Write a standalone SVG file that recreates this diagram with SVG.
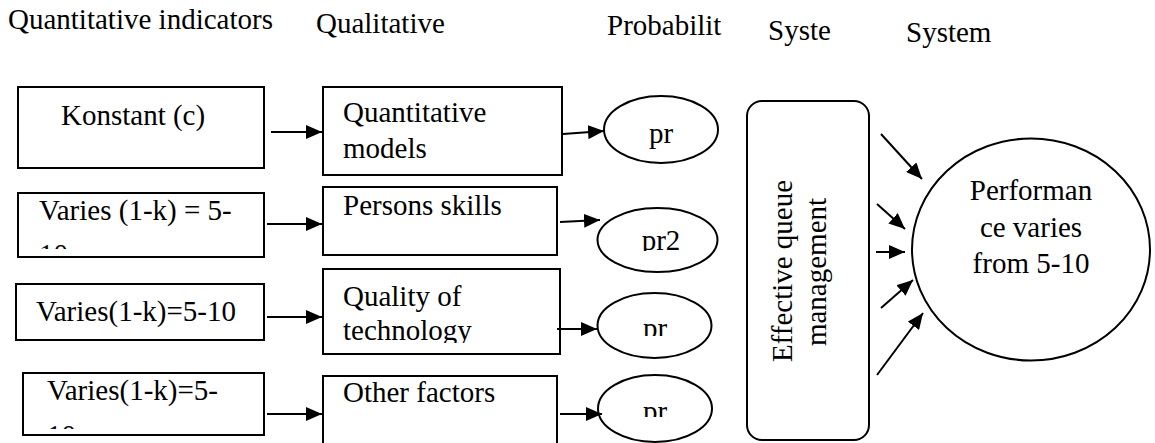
<svg xmlns="http://www.w3.org/2000/svg" width="1155" height="443" viewBox="0 0 1155 443">
  <style>
    text { font-family: "Liberation Serif", "Times New Roman", serif; font-size: 29px; fill: #000; }
    .box { fill: #fff; stroke: #000; stroke-width: 2; }
    .conn { stroke: #000; stroke-width: 2; fill: none; marker-end: url(#arrow); }
    .mid { text-anchor: middle; }
  </style>
  <defs>
    <marker id="arrow" markerUnits="userSpaceOnUse" markerWidth="16" markerHeight="14" refX="16" refY="7" orient="auto">
      <path d="M0,0 L16,7 L0,14 z" fill="#000"/>
    </marker>
    <clipPath id="clipV2"><rect x="18" y="193" width="246" height="56"/></clipPath>
    <clipPath id="clipV4"><rect x="23" y="373" width="241" height="56"/></clipPath>
    <clipPath id="clipTech"><rect x="323" y="269" width="237" height="74"/></clipPath>
    <clipPath id="clipE2"><rect x="597" y="208" width="121" height="43"/></clipPath>
    <clipPath id="clipE3"><rect x="597" y="293" width="115" height="43"/></clipPath>
    <clipPath id="clipE4"><rect x="598" y="375" width="114" height="42"/></clipPath>
  </defs>
  <rect width="1155" height="443" fill="#fff"/>

  <g id="headers">
    <text x="8" y="29">Quantitative indicators</text>
    <text x="316" y="33">Qualitative</text>
    <text x="607" y="35">Probabilit</text>
    <text x="768" y="40">Syste</text>
    <text x="906" y="42">System</text>
  </g>

  <g id="n-konstant">
    <rect class="box" x="18" y="87" width="246" height="81"/>
    <text x="61" y="125">Konstant (c)</text>
  </g>
  <g id="n-varies2">
    <rect class="box" x="18" y="193" width="246" height="64"/>
    <g clip-path="url(#clipV2)">
      <text x="39" y="220">Varies (1-k) = 5-</text>
      <text x="39" y="264">10</text>
    </g>
  </g>
  <g id="n-varies3">
    <rect class="box" x="16" y="284" width="248" height="56"/>
    <text x="36" y="321">Varies(1-k)=5-10</text>
  </g>
  <g id="n-varies4">
    <rect class="box" x="23" y="373" width="241" height="62"/>
    <g clip-path="url(#clipV4)">
      <text x="47" y="400">Varies(1-k)=5-</text>
      <text x="47" y="445">10</text>
    </g>
  </g>

  <g id="n-quantmodels">
    <rect class="box" x="323" y="87" width="239" height="88"/>
    <text x="343" y="122">Quantitative</text>
    <text x="343" y="158">models</text>
  </g>
  <g id="n-persons">
    <rect class="box" x="323" y="187" width="234" height="68"/>
    <text x="343" y="215">Persons skills</text>
  </g>
  <g id="n-quality">
    <rect class="box" x="323" y="269" width="237" height="85"/>
    <g clip-path="url(#clipTech)">
      <text x="343" y="306">Quality of</text>
      <text x="343" y="340">technology</text>
    </g>
  </g>
  <g id="n-other">
    <rect class="box" x="323" y="376" width="234" height="70"/>
    <text x="343" y="402">Other factors</text>
  </g>

  <g id="n-pr1">
    <ellipse class="box" cx="661" cy="129.5" rx="57" ry="33.5"/>
    <text class="mid" x="661" y="143">pr</text>
  </g>
  <g id="n-pr2">
    <ellipse class="box" cx="657.5" cy="240" rx="60" ry="32"/>
    <text class="mid" x="661" y="250" clip-path="url(#clipE2)">pr2</text>
  </g>
  <g id="n-pr3">
    <ellipse class="box" cx="654.5" cy="325.5" rx="57" ry="32.5"/>
    <text class="mid" x="655" y="338" clip-path="url(#clipE3)">pr</text>
  </g>
  <g id="n-pr4">
    <ellipse class="box" cx="655" cy="408.5" rx="57" ry="33.5"/>
    <text class="mid" x="655" y="421" clip-path="url(#clipE4)">pr</text>
  </g>

  <g id="n-queue">
    <rect class="box" x="747" y="101" width="122" height="339" rx="15" ry="15"/>
    <text class="mid" transform="translate(792,271) rotate(-90)">Effective queue</text>
    <text class="mid" transform="translate(826,272) rotate(-90)">management</text>
  </g>

  <g id="n-performance">
    <ellipse class="box" cx="1031" cy="249.5" rx="119" ry="111"/>
    <text class="mid" x="1031" y="200">Performan</text>
    <text class="mid" x="1031" y="237">ce varies</text>
    <text class="mid" x="1031" y="273">from 5-10</text>
  </g>

  <g id="connectors">
    <line class="conn" x1="271" y1="132" x2="322" y2="132"/>
    <line class="conn" x1="267" y1="224" x2="322" y2="224"/>
    <line class="conn" x1="267" y1="317" x2="322" y2="317"/>
    <line class="conn" x1="267" y1="414" x2="322" y2="414"/>
    <line class="conn" x1="563" y1="134" x2="604" y2="131"/>
    <line class="conn" x1="560" y1="222" x2="600" y2="220"/>
    <line class="conn" x1="557" y1="329" x2="597" y2="329"/>
    <line class="conn" x1="560" y1="414" x2="602" y2="414"/>
    <line class="conn" x1="881" y1="134" x2="922" y2="179"/>
    <line class="conn" x1="877" y1="204" x2="905" y2="229"/>
    <line class="conn" x1="876" y1="252" x2="905" y2="252"/>
    <line class="conn" x1="881" y1="308" x2="913" y2="280"/>
    <line class="conn" x1="877" y1="375" x2="923" y2="313"/>
  </g>
</svg>
